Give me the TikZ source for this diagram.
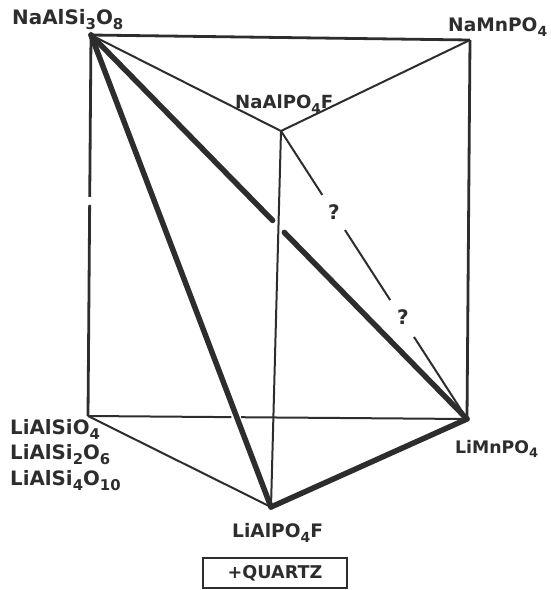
\documentclass[tikz,border=0pt]{standalone}
\usepackage{fontspec}
\setmainfont{DejaVu Sans}
\usetikzlibrary{calc}
\definecolor{ink}{RGB}{45,45,45}
\newcommand\chs[1]{\raisebox{-0.28em}{\scalebox{0.75}{#1}}}
\newcommand\fsz[1]{\fontsize{#1}{#1}\selectfont}
\begin{document}
\begin{tikzpicture}[x=1pt,y=-1pt,
  thickedge/.style={line width=5.5pt, draw=ink, line cap=round},
  thinedge/.style={line width=2pt, draw=ink},
  midedge/.style={line width=2.8pt, draw=ink},
  lbl/.style={font=\bfseries, text=ink, inner sep=0pt, anchor=base west},
  qmark/.style={font=\bfseries\fsz{20}, text=ink, inner sep=0pt}]
\useasboundingbox (0,0) rectangle (551,590);
% vertices
\coordinate (A) at (91,35);   % NaAlSi3O8
\coordinate (B) at (470,40);  % NaMnPO4
\coordinate (C) at (281,131); % NaAlPO4F
\coordinate (D) at (88,416);  % LiAlSiO4
\coordinate (E) at (467,419); % LiMnPO4
\coordinate (F) at (271,507); % LiAlPO4F
% thin / medium edges
\draw[midedge] (A) -- (B);
\draw[thinedge] (A) -- (C);
\draw[thinedge] (C) -- (B);
\draw[midedge] (A) -- ($(A)!0.425!(D)$);
\draw[midedge] ($(A)!0.446!(D)$) -- (D);
\draw[midedge] (B) -- (E);
\draw[thinedge] (C) -- (F);
\draw[thinedge] (D) -- ($(D)!0.378!(E)$);
\draw[thinedge] ($(D)!0.404!(E)$) -- (E);
\draw[thinedge] (D) -- (F);
\draw[thinedge] (C) -- ($(C)!0.222!(E)$);
\draw[thinedge] ($(C)!0.344!(E)$) -- ($(C)!0.587!(E)$);
\draw[thinedge] ($(C)!0.715!(E)$) -- (E);
% thick edges
\draw[thickedge] (A) -- (F);
\draw[thickedge] (F) -- (E);
\draw[thickedge] (A) -- ($(A)!0.483!(E)$);
\draw[thickedge] ($(A)!0.514!(E)$) -- (E);
% question marks
\node[qmark] (q1) at (334,212) {?};
\node[qmark] (q2) at (403,317) {?};
% labels
\node[lbl, font=\bfseries\fsz{19.9}] (lA) at (12,24) {NaAlSi\chs{3}O\chs{8}};
\node[lbl, font=\bfseries\fsz{18.6}] (lB) at (448,31) {NaMnPO\chs{4}};
\node[lbl, font=\bfseries\fsz{18.1}] (lC) at (235,108) {NaAlPO\chs{4}F};
\node[lbl, font=\bfseries\fsz{19.8}] (lD1) at (10,434) {LiAlSiO\chs{4}};
\node[lbl, font=\bfseries\fsz{19.8}] (lD2) at (10,459) {LiAlSi\chs{2}O\chs{6}};
\node[lbl, font=\bfseries\fsz{19.8}] (lD3) at (10,485) {LiAlSi\chs{4}O\chs{10}};
\node[lbl, font=\bfseries\fsz{17.3}] (lE) at (455,453) {LiMnPO\chs{4}};
\node[lbl, font=\bfseries\fsz{18.6}] (lF) at (232,537) {LiAlPO\chs{4}F};
\node[draw=ink, line width=2pt, text=ink, font=\bfseries\fsz{17.6},
      minimum width=144pt, minimum height=30pt, inner sep=0pt] (qz) at (275,573) {+QUARTZ};
\end{tikzpicture}
\end{document}
